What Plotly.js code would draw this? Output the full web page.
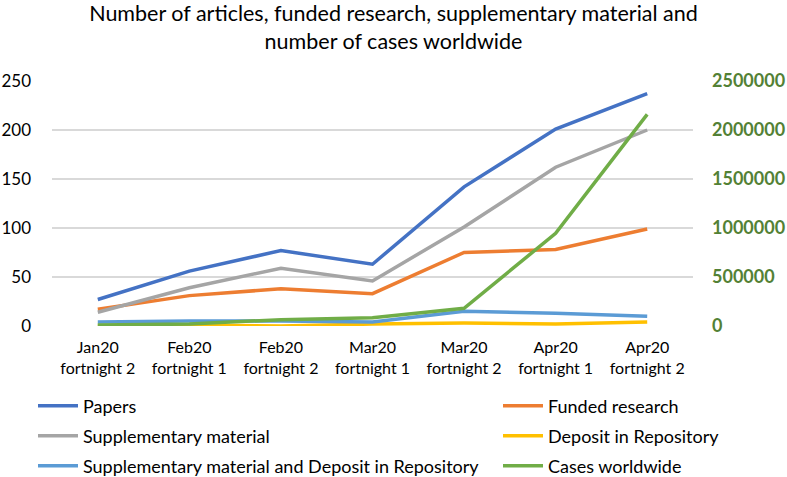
<!DOCTYPE html>
<html><head><meta charset="utf-8">
<script src="https://cdn.plot.ly/plotly-3.0.1.min.js"></script>
<style>html,body{margin:0;padding:0;background:#fff}#chart{width:787px;height:477px}</style>
</head><body><div id="chart"></div>
<script>
const categories = ["Jan20<br>fortnight 2","Feb20<br>fortnight 1","Feb20<br>fortnight 2","Mar20<br>fortnight 1","Mar20<br>fortnight 2","Apr20<br>fortnight 1","Apr20<br>fortnight 2"];
const papers = [27, 56, 77, 63, 142, 201, 237];
const funded = [17, 31, 38, 33, 75, 78, 99];
const supplementary = [14, 39, 59, 46, 101, 162, 200];
const deposit = [0, 1, 0, 2, 3, 2, 4];
const suppDeposit = [4, 5, 5, 4, 15, 13, 10];
const cases = [10000, 20000, 65000, 85000, 180000, 946000, 2160000];

const FONT = "Lato, 'Open Sans', sans-serif";
const mk = (name, y, color, legend, axis) => ({
  type: 'scatter', mode: 'lines', name, x: categories, y, legend,
  yaxis: axis || 'y', line: {color, width: 3.5}
});
const data = [
  mk('Papers', papers, '#4472C4', 'legend'),
  mk('Funded research', funded, '#ED7D31', 'legend2'),
  mk('Supplementary material', supplementary, '#A5A5A5', 'legend3'),
  mk('Deposit in Repository', deposit, '#FFC000', 'legend4'),
  mk('Supplementary material and Deposit in Repository', suppDeposit, '#5B9BD5', 'legend5'),
  mk('Cases worldwide', cases, '#70AD47', 'legend6', 'y2')
];
const leg = (xpx, ypx) => ({
  orientation: 'h', xref: 'container', yref: 'container',
  x: xpx/787, xanchor: 'left', y: 1 - ypx/477, yanchor: 'middle',
  itemwidth: 40,
  font: {size: 18, family: FONT, color: '#000'}, bgcolor: 'rgba(0,0,0,0)'
});
const layout = {
  width: 787, height: 477,
  margin: {l: 52, r: 94, t: 81, b: 151, autoexpand: false},
  paper_bgcolor: '#fff', plot_bgcolor: '#fff',
  font: {family: FONT, size: 16, color: '#000'},
  title: {text: 'Number of articles, funded research, supplementary material and<br>number of cases worldwide',
    font: {family: FONT, size: 21.5, color: '#000'}, x: 0.5, xanchor: 'center',
    xref: 'container', yref: 'container', y: 1 - 21/477, yanchor: 'top'},
  xaxis: {type: 'category', range: [-0.5, 6.5], showgrid: false, zeroline: false, showline: false,
    ticks: '', tickfont: {size: 16, family: FONT}, ticklabelstandoff: 10},
  yaxis: {range: [0, 250], dtick: 50, showgrid: true, gridcolor: '#D9D9D9', gridwidth: 1.3,
    zeroline: false, showline: false, ticks: '', tickfont: {size: 17, family: FONT}, ticklabelstandoff: 20},
  yaxis2: {range: [0, 2500000], dtick: 500000, overlaying: 'y', side: 'right', showgrid: false,
    zeroline: false, showline: false, tickformat: 'd', ticks: '', ticklabelstandoff: 18,
    tickfont: {size: 18, family: FONT, color: '#538135', weight: 'bold'}},
  showlegend: true,
  legend: leg(33, 406),
  legend2: leg(498, 406),
  legend3: leg(33, 436),
  legend4: leg(498, 436),
  legend5: leg(33, 466),
  legend6: leg(498, 466)
};
Plotly.newPlot('chart', data, layout, {displayModeBar: false, staticPlot: true});
</script></body></html>
